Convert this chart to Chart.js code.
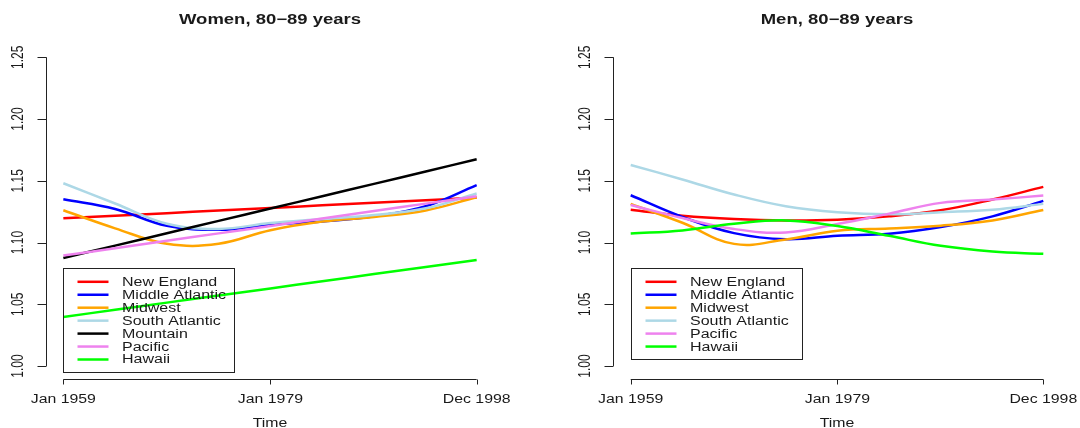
<!DOCTYPE html>
<html>
<head>
<meta charset="utf-8">
<title>Women and Men, 80-89 years</title>
<script src="https://cdn.jsdelivr.net/npm/chart.js@4"></script>
<style>
  html, body { margin: 0; padding: 0; background: #ffffff; }
  #wrap { position: relative; width: 1080px; height: 428px; }
  canvas { position: absolute; top: 0; }
</style>
</head>
<body>
<div id="wrap">
  <canvas id="women" width="540" height="428" style="left:0"></canvas>
  <canvas id="men" width="540" height="428" style="left:540px"></canvas>
</div>
<script>
'use strict';

// Time in decimal years (Jan 1959 ... Dec 1998)
let years = [1959, 1964, 1969, 1974, 1979, 1984, 1989, 1994, 1998.917];

// Tick labels
let xTickValues = [1959, 1979, 1998.917];
let xTickLabels = ['Jan 1959', 'Jan 1979', 'Dec 1998'];
let yTickValues = [1.00, 1.05, 1.10, 1.15, 1.20, 1.25];

// Women, 80-89 years
let womenNewEngland = [1.1196, 1.1217, 1.1238, 1.1259, 1.1280, 1.1301, 1.1322, 1.1343, 1.1364];
let womenMiddleAtlantic = [1.1351, 1.1272, 1.1136, 1.1103, 1.1144, 1.1171, 1.1212, 1.1294, 1.1465];
let womenMidwest = [1.1261, 1.1115, 1.0990, 1.0990, 1.1100, 1.1170, 1.1207, 1.1260, 1.1367];
let womenSouthAtlantic = [1.1480, 1.1316, 1.1152, 1.1110, 1.1158, 1.1190, 1.1223, 1.1277, 1.1397];
let womenMountain = [1.0875, 1.0975, 1.1075, 1.1175, 1.1275, 1.1375, 1.1475, 1.1575, 1.1675];
let womenPacific = [1.0894, 1.0954, 1.1014, 1.1074, 1.1134, 1.1194, 1.1255, 1.1315, 1.1375];
let womenHawaii = [1.0397, 1.0455, 1.0513, 1.0570, 1.0628, 1.0686, 1.0744, 1.0801, 1.0859];

// Men, 80-89 years
let menNewEngland = [1.1266, 1.1217, 1.1190, 1.1179, 1.1185, 1.1212, 1.1261, 1.1348, 1.1451];
let menMiddleAtlantic = [1.1383, 1.1207, 1.1076, 1.1027, 1.1055, 1.1071, 1.1125, 1.1212, 1.1337];
let menMidwest = [1.1313, 1.1160, 1.0989, 1.1025, 1.1095, 1.1114, 1.1136, 1.1179, 1.1264];
let menSouthAtlantic = [1.1628, 1.1511, 1.1389, 1.1294, 1.1245, 1.1228, 1.1245, 1.1266, 1.1313];
let menPacific = [1.1304, 1.1198, 1.1109, 1.1082, 1.1150, 1.1234, 1.1321, 1.1348, 1.1380];
let menHawaii = [1.1073, 1.1098, 1.1152, 1.1179, 1.1133, 1.1054, 1.0973, 1.0927, 1.0908];

let regionColors = {
  'New England': '#ff0000',
  'Middle Atlantic': '#0000ff',
  'Midwest': '#ffa500',
  'South Atlantic': '#add8e6',
  'Mountain': '#000000',
  'Pacific': '#ee82ee',
  'Hawaii': '#00ff00'
};

let fontFamily = '"Liberation Sans", Arial, Helvetica, sans-serif';
let textColor = '#1a1a1a';
// the reference text looks horizontally stretched
let stretch = 1.32;

// turn a list of values into {x, y} points
function toPoints(values) {
  let points = [];
  for (let i = 0; i < values.length; i++) {
    points.push({ x: years[i], y: values[i] });
  }
  return points;
}

function makeDatasets(series) {
  let datasets = [];
  for (let i = 0; i < series.length; i++) {
    datasets.push({
      label: series[i][0],
      data: toPoints(series[i][1]),
      borderColor: regionColors[series[i][0]],
      backgroundColor: regionColors[series[i][0]],
      borderWidth: 2.5,
      pointRadius: 0,
      tension: 0.4,
      fill: false,
      // later series drawn on top, like R
      order: series.length - i
    });
  }
  return datasets;
}

function drawStretched(ctx, text, x, y, sx) {
  ctx.save();
  ctx.translate(x, y);
  ctx.scale(sx, 1);
  ctx.fillText(text, 0, 0);
  ctx.restore();
}

// R style axes, title and legend
let rStylePlugin = {
  id: 'rStyle',
  afterDraw(chart, args, opts) {
    let ctx = chart.ctx;
    let area = chart.chartArea;
    let xs = chart.scales.x;
    let ys = chart.scales.y;

    ctx.save();
    ctx.strokeStyle = '#222222';
    ctx.fillStyle = textColor;
    ctx.lineWidth = 1;

    // y axis
    let ax = Math.round(area.left) - 0.5;
    ctx.beginPath();
    ctx.moveTo(ax, ys.getPixelForValue(yTickValues[0]));
    ctx.lineTo(ax, ys.getPixelForValue(yTickValues[yTickValues.length - 1]));
    for (let i = 0; i < yTickValues.length; i++) {
      let py = Math.round(ys.getPixelForValue(yTickValues[i])) + 0.5;
      ctx.moveTo(ax, py);
      ctx.lineTo(ax - 9, py);
    }
    ctx.stroke();

    ctx.font = '12px ' + fontFamily;
    ctx.textAlign = 'center';
    ctx.textBaseline = 'alphabetic';
    for (let i = 0; i < yTickValues.length; i++) {
      let py = ys.getPixelForValue(yTickValues[i]);
      ctx.save();
      ctx.translate(area.left - 24, py);
      ctx.rotate(-Math.PI / 2);
      ctx.scale(1, stretch);
      ctx.fillText(yTickValues[i].toFixed(2), 0, 0);
      ctx.restore();
    }

    // x axis
    let ay = Math.round(area.bottom) + 1.5;
    ctx.beginPath();
    ctx.moveTo(xs.getPixelForValue(xTickValues[0]), ay);
    ctx.lineTo(xs.getPixelForValue(xTickValues[xTickValues.length - 1]), ay);
    for (let i = 0; i < xTickValues.length; i++) {
      let px = Math.round(xs.getPixelForValue(xTickValues[i])) + 0.5;
      ctx.moveTo(px, ay);
      ctx.lineTo(px, ay + 5);
    }
    ctx.stroke();
    for (let i = 0; i < xTickValues.length; i++) {
      drawStretched(ctx, xTickLabels[i], xs.getPixelForValue(xTickValues[i]), 403, stretch);
    }

    // axis title and plot title
    let midX = (area.left + area.right) / 2;
    drawStretched(ctx, 'Time', midX, 427, stretch);
    ctx.font = 'bold 14px ' + fontFamily;
    drawStretched(ctx, opts.title, midX, 24, stretch);

    // legend box, top-left corner at (Jan 1959, 1.0796)
    let items = chart.data.datasets;
    let lx = Math.round(xs.getPixelForValue(years[0])) + 0.5;
    let ly = Math.round(ys.getPixelForValue(1.0796)) + 0.5;
    let rowH = 12.95;
    let boxH = Math.round(items.length * rowH + 13.3);
    ctx.strokeStyle = '#222222';
    ctx.strokeRect(lx, ly, 171, boxH);

    ctx.font = '12.5px ' + fontFamily;
    ctx.textAlign = 'left';
    ctx.textBaseline = 'middle';
    for (let i = 0; i < items.length; i++) {
      let ry = ly + 13.3 + i * rowH;
      ctx.strokeStyle = items[i].borderColor;
      ctx.lineWidth = 2.5;
      ctx.beginPath();
      ctx.moveTo(lx + 14, ry);
      ctx.lineTo(lx + 45, ry);
      ctx.stroke();
      drawStretched(ctx, items[i].label, lx + 58.5, ry + 0.5, 1.28);
    }
    ctx.restore();
  }
};

function makeChart(canvasId, title, datasets, padLeft, padRight) {
  let canvas = document.getElementById(canvasId);
  return new Chart(canvas, {
    type: 'line',
    data: { datasets: datasets },
    options: {
      responsive: false,
      animation: false,
      devicePixelRatio: 1,
      layout: { padding: { left: padLeft, right: padRight, top: 45, bottom: 49.7 } },
      scales: {
        // R pads the data range by 4% on each side
        x: { type: 'linear', display: false, min: 1959 - 1.597, max: 1998.917 + 1.597 },
        y: { type: 'linear', display: false, min: 0.99, max: 1.26 }
      },
      plugins: {
        legend: { display: false },
        tooltip: { enabled: false },
        title: { display: false },
        rStyle: { title: title }
      }
    },
    plugins: [rStylePlugin]
  });
}

makeChart('women', 'Women, 80\u221289 years', makeDatasets([
  ['New England', womenNewEngland],
  ['Middle Atlantic', womenMiddleAtlantic],
  ['Midwest', womenMidwest],
  ['South Atlantic', womenSouthAtlantic],
  ['Mountain', womenMountain],
  ['Pacific', womenPacific],
  ['Hawaii', womenHawaii]
]), 46.8, 46.8);

makeChart('men', 'Men, 80\u221289 years', makeDatasets([
  ['New England', menNewEngland],
  ['Middle Atlantic', menMiddleAtlantic],
  ['Midwest', menMidwest],
  ['South Atlantic', menSouthAtlantic],
  ['Pacific', menPacific],
  ['Hawaii', menHawaii]
]), 74.2, 20.2);
</script>
</body>
</html>
